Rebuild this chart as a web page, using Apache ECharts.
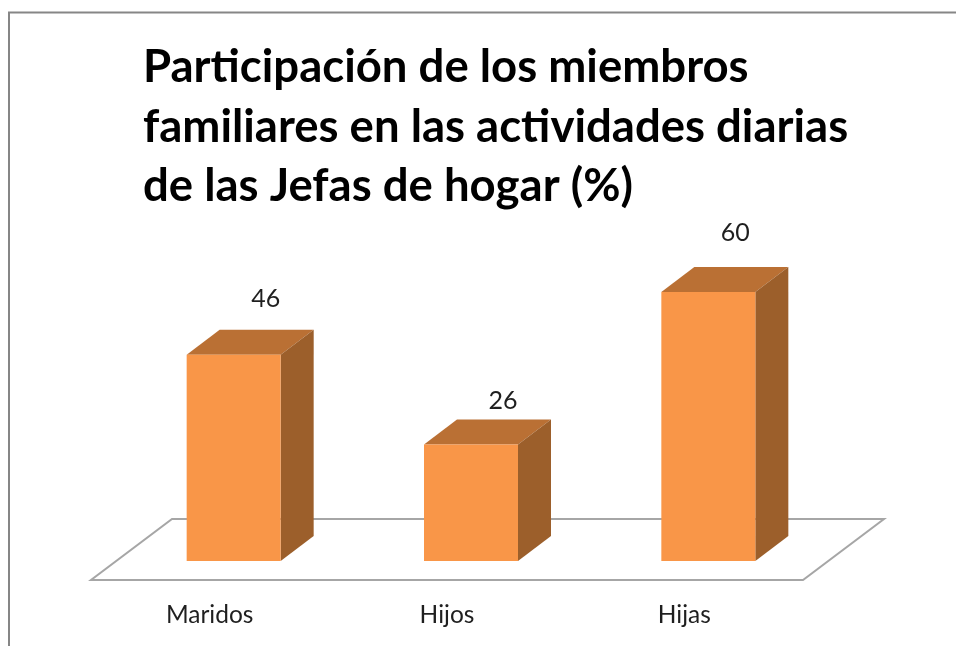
<!DOCTYPE html>
<html>
<head>
<meta charset="utf-8">
<style>
  html, body { margin: 0; padding: 0; background: #fff; }
  #chart { width: 956px; height: 646px; }
</style>
<script src="https://cdn.jsdelivr.net/npm/echarts@6/dist/echarts.min.js"></script>
</head>
<body>
<div id="chart"></div>
<script>
const categories = ['Maridos', 'Hijos', 'Hijas'];
const values = [46, 26, 60];
const titleLines = [
  'Participación de los miembros',
  'familiares en las actividades diarias',
  'de las Jefas de hogar (%)'
];

// depth of the fake 3D, in pixels
const depthX = 33;
const depthY = 25;
const barOffset = 24;
const barWidth = 94;
// the value labels do not sit at a fixed distance from the bars
const labelDx = [79, 79, 74];
const labelDy = [56, 43, 59];

const chart = echarts.init(document.getElementById('chart'));

const renderFloor = (params, api) => {
  const cs = params.coordSys;
  const front = cs.y + cs.height + 19;
  const back = front - 61;
  return {
    type: 'polygon',
    silent: true,
    shape: {
      points: [
        [cs.x, front],
        [cs.x + cs.width, front],
        [cs.x + cs.width + 81, back],
        [cs.x + 81, back]
      ]
    },
    style: { fill: '#fff', stroke: '#a6a6a6', lineWidth: 2 }
  };
};

const renderBar = (params, api) => {
  const top = api.coord([api.value(0), api.value(1)]);
  const base = api.coord([api.value(0), 0]);
  const x0 = top[0] + barOffset - barWidth / 2;
  const x1 = x0 + barWidth;
  return {
    type: 'group',
    children: [
      {
        type: 'polygon',
        shape: { points: [[x0, top[1]], [x1, top[1]], [x1 + depthX, top[1] - depthY], [x0 + depthX, top[1] - depthY]] },
        style: { fill: '#ba7034' }
      },
      {
        type: 'polygon',
        shape: { points: [[x1, top[1]], [x1 + depthX, top[1] - depthY], [x1 + depthX, base[1] - depthY], [x1, base[1]]] },
        style: { fill: '#9c5f2b' }
      },
      {
        type: 'rect',
        shape: { x: x0, y: top[1], width: barWidth, height: base[1] - top[1] },
        style: { fill: '#f99648' }
      },
      {
        type: 'text',
        style: {
          x: x0 + labelDx[params.dataIndex],
          y: top[1] - labelDy[params.dataIndex],
          text: String(api.value(1)),
          fill: '#1f1f1f',
          font: '25px Lato',
          align: 'center',
          verticalAlign: 'middle'
        }
      }
    ]
  };
};

const option = {
  backgroundColor: '#fff',
  animation: false,
  title: {
    text: titleLines.join('\n'),
    left: 143,
    top: 38,
    padding: 0,
    textStyle: {
      fontFamily: 'Lato',
      fontSize: 45.5,
      fontWeight: 'bold',
      color: '#000',
      lineHeight: 59.5
    }
  },
  grid: { left: 91, width: 712, top: 292, height: 269 },
  xAxis: {
    type: 'category',
    data: categories,
    axisLine: { show: false },
    axisTick: { show: false },
    axisLabel: { color: '#1f1f1f', fontFamily: 'Lato', fontSize: 24.5, margin: 42 }
  },
  yAxis: {
    type: 'value',
    min: 0,
    max: 60,
    show: false
  },
  graphic: [
    {
      type: 'polyline',
      silent: true,
      shape: { points: [[9, 646], [9, 12.5], [956, 12.5]] },
      style: { fill: 'none', stroke: '#868686', lineWidth: 2 }
    }
  ],
  series: [
    {
      type: 'custom',
      data: [0],
      renderItem: renderFloor,
      z: 1,
      clip: false
    },
    {
      type: 'custom',
      data: values.map((v, i) => [i, v]),
      encode: { x: 0, y: 1 },
      renderItem: renderBar,
      z: 2,
      clip: false
    }
  ]
};

chart.setOption(option);
</script>
</body>
</html>
